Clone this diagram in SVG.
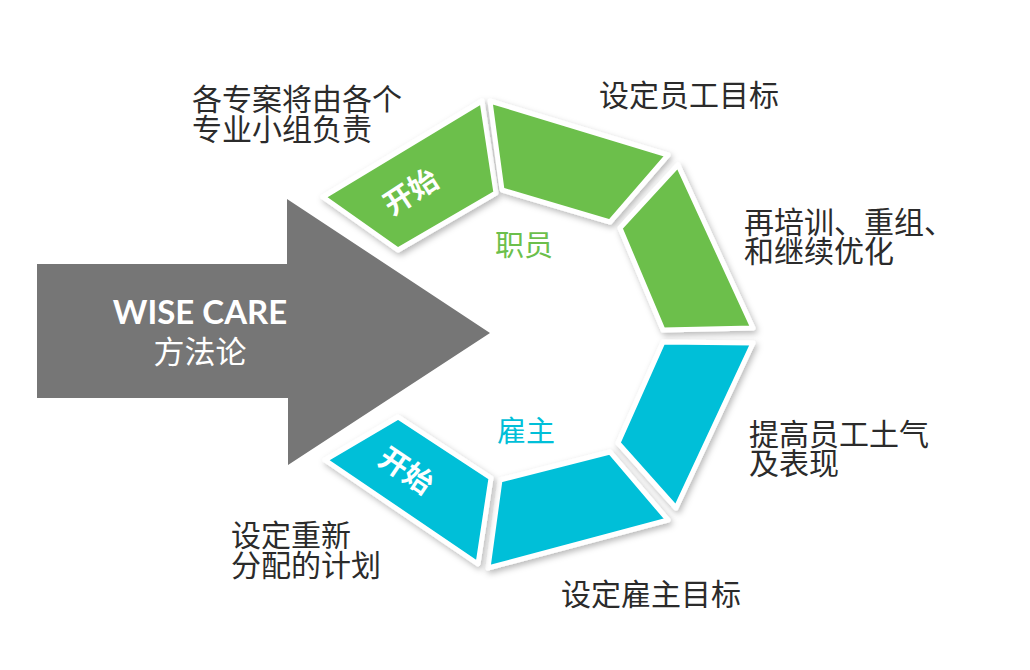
<svg xmlns="http://www.w3.org/2000/svg" width="1030" height="670" viewBox="0 0 1030 670">
<defs>
<filter id="sh" x="-20%" y="-20%" width="140%" height="140%">
<feDropShadow dx="2" dy="3" stdDeviation="3" flood-color="#000" flood-opacity="0.28"/>
</filter>
<style>
.seg{stroke:#fff;stroke-width:5;stroke-linejoin:round;filter:url(#sh)}
.g{fill:#6cbf4b}
.b{fill:#00bfd8}
.lbl{font-family:"Noto Sans CJK SC","Noto Sans",sans-serif;font-size:30px;fill:#2b2b2b}
.st{font-family:"Noto Sans CJK SC",sans-serif;font-size:29px;font-weight:bold;fill:#fff;text-anchor:middle}
.ctr{font-family:"Noto Sans CJK SC",sans-serif;font-size:29px;text-anchor:middle}
</style>
</defs>
<rect width="1030" height="670" fill="#fff"/>
<g id="arrow">
<polygon points="37,264 287,264 287,199 490,333 288,465 288,398 37,398" fill="#767676"/>
<text x="200" y="324" text-anchor="middle" font-family="Lato,'Open Sans',sans-serif" font-weight="bold" font-size="33" fill="#fff">WISE CARE</text>
<text x="200" y="363" text-anchor="middle" font-family="'Noto Sans CJK SC',sans-serif" font-size="31" fill="#fff">方法论</text>
</g>
<g id="connectors"></g>
<g id="seg1">
<polygon class="seg g" points="482,101 323,197 398,250 496,193"/>
<text class="st" transform="translate(411,192) rotate(-33)" y="10">开始</text>
</g>
<g id="seg2">
<polygon class="seg g" points="490,101 668,155 610,222 502,190"/>
</g>
<g id="seg3">
<polygon class="seg g" points="678,165 753,328 663,330 620,228"/>
</g>
<g id="seg4">
<polygon class="seg b" points="663,342 753,343 676,508 618,443"/>
</g>
<g id="seg5">
<polygon class="seg b" points="500,480 610,452 668,520 488,568"/>
</g>
<g id="seg6">
<polygon class="seg b" points="398,417 491,478 478,564 325,460"/>
<text class="st" transform="translate(406,471) rotate(34)" y="10">开始</text>
</g>
<g id="center-labels">
<text class="ctr" x="524" y="256" fill="#6cbf4b">职员</text>
<text class="ctr" x="526" y="442" fill="#00bfd8">雇主</text>
</g>
<g id="labels">
<text class="lbl"><tspan x="192" y="110">各专案将由各个</tspan><tspan x="192" y="140">专业小组负责</tspan></text>
<text class="lbl" x="599" y="106">设定员工目标</text>
<text class="lbl"><tspan x="744" y="233">再培训、重组、</tspan><tspan x="744" y="262">和继续优化</tspan></text>
<text class="lbl"><tspan x="749" y="445">提高员工土气</tspan><tspan x="749" y="474">及表现</tspan></text>
<text class="lbl"><tspan x="231" y="546">设定重新</tspan><tspan x="231" y="576">分配的计划</tspan></text>
<text class="lbl" x="561" y="605">设定雇主目标</text>
</g>
</svg>
